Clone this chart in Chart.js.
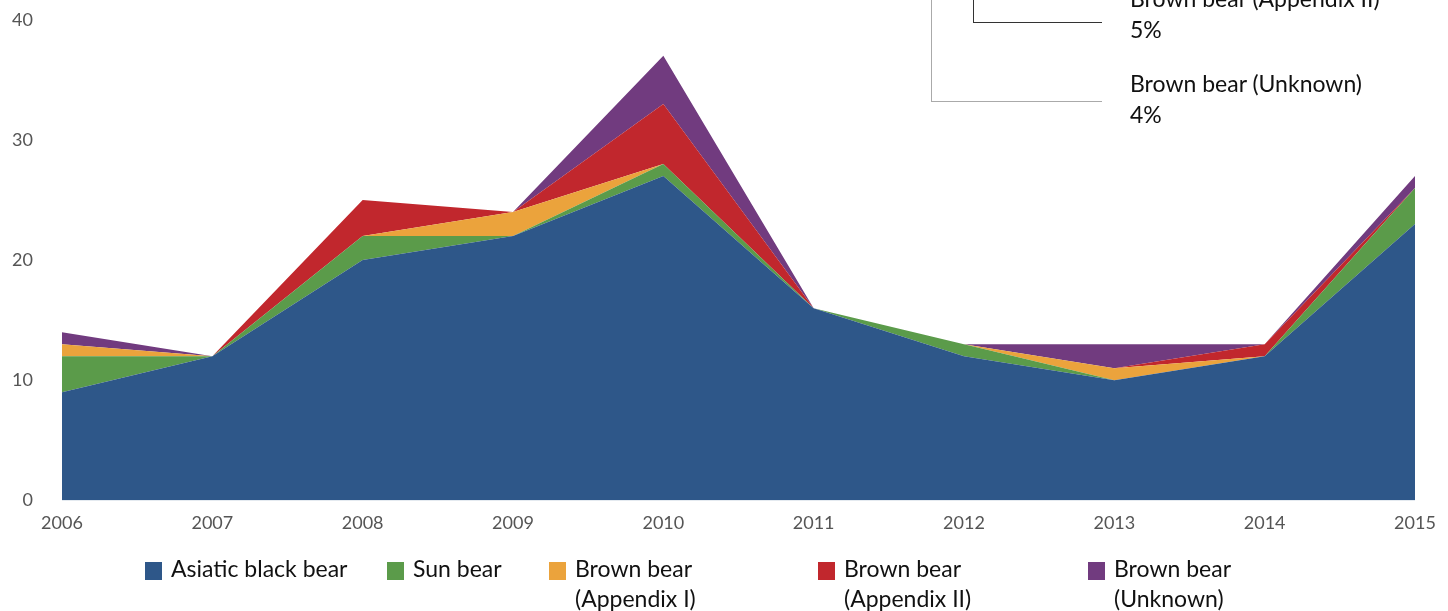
<!DOCTYPE html>
<html>
<head>
<meta charset="utf-8">
<script src="https://cdn.jsdelivr.net/npm/chart.js@4"></script>
<style>
  html,body{margin:0;padding:0;background:#fff;}
  body{width:1448px;height:611px;position:relative;overflow:hidden;font-family:Lato,'Noto Sans',sans-serif;}
  #wrap{position:absolute;left:0;top:-20px;width:1448px;height:575px;}
  .note{position:absolute;left:1130px;font-size:23px;line-height:31px;color:#111;white-space:nowrap;}
  .ln{position:absolute;}
  .leg{position:absolute;top:553px;font-size:23px;line-height:30px;color:#111;}
  .leg i{position:absolute;left:0;top:9px;width:17px;height:18px;}
  .leg span{position:absolute;left:26px;top:0;white-space:nowrap;}
</style>
</head>
<body>
<div id="wrap"><canvas id="c"></canvas></div>

<!-- callout lines + labels, top right -->
<div class="ln" style="left:973px;top:0;width:1px;height:22px;background:#333"></div>
<div class="ln" style="left:973px;top:22px;width:129px;height:1px;background:#333"></div>
<div class="ln" style="left:931px;top:0;width:1px;height:101px;background:#aaa"></div>
<div class="ln" style="left:931px;top:101px;width:171px;height:1px;background:#aaa"></div>
<div class="note" style="top:-17px">Brown bear (Appendix II)<br>5%</div>
<div class="note" style="top:68px">Brown bear (Unknown)<br>4%</div>

<div id="legend"></div>

<script>
/* --- DATA --- */
const years    = ['2006','2007','2008','2009','2010','2011','2012','2013','2014','2015'];
const asiatic  = [9, 12, 20, 22, 27, 16, 12, 10, 12, 23];
const sunBear  = [3,  0,  2,  0,  1,  0,  1,  0,  0,  3];
const brownI   = [1,  0,  0,  2,  0,  0,  0,  1,  0,  0];
const brownII  = [0,  0,  3,  0,  5,  0,  0,  0,  1,  0];
const brownUnk = [1,  0,  0,  0,  4,  0,  0,  2,  0,  1];
const yTicks   = [0, 10, 20, 30, 40];

const series = [
  {label:'Asiatic black bear', lines:['Asiatic black bear'], data:asiatic, col:'#2e5789', x:145},
  {label:'Sun bear', lines:['Sun bear'], data:sunBear, col:'#5b9b4a', x:387},
  {label:'Brown bear (Appendix I)', lines:['Brown bear','(Appendix I)'], data:brownI, col:'#eba33c', x:549},
  {label:'Brown bear (Appendix II)', lines:['Brown bear','(Appendix II)'], data:brownII, col:'#c1272d', x:818},
  {label:'Brown bear (Unknown)', lines:['Brown bear','(Unknown)'], data:brownUnk, col:'#713b7f', x:1088}
];

/* --- LEGEND --- */
document.getElementById('legend').innerHTML = series.map(s=>`
  <div class="leg" style="left:${s.x}px"><i style="background:${s.col}"></i><span>${s.lines.join('<br>')}</span></div>`).join('');

/* --- CHART --- */
const tk = {font:{size:18, family:'Lato, "Noto Sans", sans-serif'}, color:'#555'};

new Chart(document.getElementById('c'), {
  type:'line',
  data:{
    labels:years,
    datasets:series.map((s,i)=>({
      label:s.label, data:s.data,
      backgroundColor:s.col, borderColor:s.col, borderWidth:0,
      pointRadius:0, tension:0,
      fill: i===0 ? 'origin' : '-1'
    }))
  },
  options:{
    responsive:true, maintainAspectRatio:false, animation:false,
    layout:{padding:{top:2, right:33, bottom:9, left:0}},
    plugins:{legend:{display:false}, tooltip:{enabled:false}},
    scales:{
      x:{
        offset:false,
        grid:{display:false, drawTicks:false},
        border:{display:false},
        ticks:{...tk, padding:12, maxRotation:0, autoSkip:false}
      },
      y:{
        stacked:true, min:0, max:40,
        afterBuildTicks:ax=>{ ax.ticks = yTicks.map(v=>({value:v})); },
        afterFit:ax=>{ ax.width = 62; },
        grid:{display:false, drawTicks:false},
        border:{display:false},
        ticks:{...tk, padding:29}
      }
    }
  }
});
</script>
</body>
</html>
